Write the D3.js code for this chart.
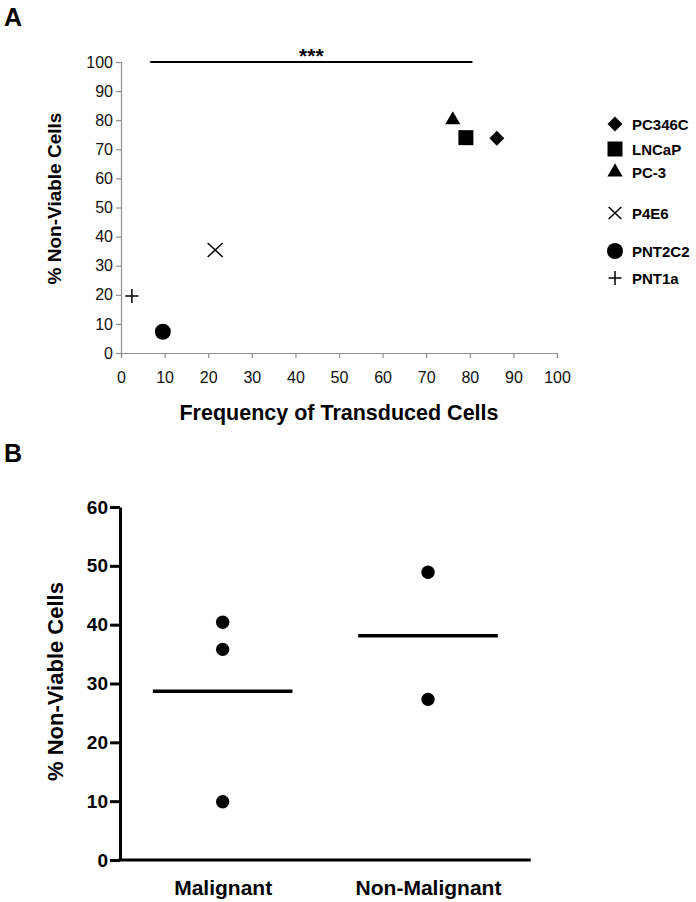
<!DOCTYPE html>
<html>
<head>
<meta charset="utf-8">
<script src="https://cdn.jsdelivr.net/npm/d3@7"></script>
<style>
  html, body { margin: 0; padding: 0; background: #fff; }
  svg { display: block; font-family: Arial, "Liberation Sans", Helvetica, sans-serif; }
</style>
</head>
<body>
<svg id="chart" width="696" height="902"></svg>
<script>
// ---------- Panel A data ----------
const cellLines   = ["PC346C", "LNCaP", "PC-3", "P4E6", "PNT2C2", "PNT1a"];
const markerTypes = ["diamond", "square", "triangle", "x", "circle", "plus"];
const transduced  = [86.2, 79.1, 76.1, 21.6, 9.6, 2.5];
const nonViableA  = [73.8, 74.0, 80.1, 35.4, 7.3, 19.6];
const ticksA      = [0, 10, 20, 30, 40, 50, 60, 70, 80, 90, 100];
const sigRange    = [6.7, 80.6];
const sigLevel    = 100;
const sigLabel    = "***";

// ---------- Panel B data ----------
const groups           = ["Malignant", "Non-Malignant"];
const malignantVals    = [40.4, 35.8, 9.9];
const nonMalignantVals = [48.9, 27.3];
const groupMeans       = [28.7, 38.1];
const ticksB           = [0, 10, 20, 30, 40, 50, 60];

const svg = d3.select("#chart");

// ================= PANEL A =================
const ax = d3.scaleLinear().domain([0, 100]).range([121, 557]);
const ay = d3.scaleLinear().domain([0, 100]).range([353, 62]);
const axisGray = "#8f8f8f";

svg.append("text").attr("x", 4).attr("y", 26)
  .attr("font-size", 25).attr("font-weight", "bold").text("A");

const gAy = svg.append("g").attr("transform", `translate(${ax(0)},0)`)
  .call(d3.axisLeft(ay).tickValues(ticksA).tickSize(5).tickPadding(3).tickFormat(d3.format("d")));
const gAx = svg.append("g").attr("transform", `translate(0,${ay(0)})`)
  .call(d3.axisBottom(ax).tickValues(ticksA).tickSize(5).tickPadding(14).tickFormat(d3.format("d")));
[gAy, gAx].forEach(g => {
  g.select(".domain").attr("stroke", axisGray).attr("stroke-width", 1.2);
  g.selectAll(".tick line").attr("stroke", axisGray).attr("stroke-width", 1.2);
  g.selectAll(".tick text").attr("font-size", 16).attr("fill", "#111")
    .attr("font-family", "Arial, 'Liberation Sans', sans-serif");
});

svg.append("text")
  .attr("transform", `translate(61,${(ay(0) + ay(100)) / 2 - 9}) rotate(-90)`)
  .attr("text-anchor", "middle").attr("font-size", 19).attr("font-weight", "bold")
  .text("% Non-Viable Cells");

svg.append("text")
  .attr("x", (ax(0) + ax(100)) / 2).attr("y", 420)
  .attr("text-anchor", "middle").attr("font-size", 21.5).attr("font-weight", "bold")
  .text("Frequency of Transduced Cells");

// significance bar
svg.append("line")
  .attr("x1", ax(sigRange[0])).attr("x2", ax(sigRange[1]))
  .attr("y1", ay(sigLevel)).attr("y2", ay(sigLevel))
  .attr("stroke", "#000").attr("stroke-width", 2);
svg.append("text")
  .attr("x", (ax(sigRange[0]) + ax(sigRange[1])) / 2).attr("y", ay(sigLevel) + 1)
  .attr("text-anchor", "middle").attr("font-size", 21).attr("font-weight", "bold")
  .text(sigLabel);

function drawMarker(g, type, cx, cy, scale) {
  const s = scale || 1;
  if (type === "diamond") {
    g.append("path").attr("d", d3.symbol(d3.symbolSquare, 110 * s * s)())
      .attr("transform", `translate(${cx},${cy}) rotate(45)`).attr("fill", "#000");
  } else if (type === "square") {
    g.append("path").attr("d", d3.symbol(d3.symbolSquare, 225 * s * s)())
      .attr("transform", `translate(${cx},${cy})`).attr("fill", "#000");
  } else if (type === "triangle") {
    g.append("path").attr("d", d3.symbol(d3.symbolTriangle, 100 * s * s)())
      .attr("transform", `translate(${cx},${cy})`).attr("fill", "#000");
  } else if (type === "circle") {
    g.append("path").attr("d", d3.symbol(d3.symbolCircle, 200 * s * s)())
      .attr("transform", `translate(${cx},${cy})`).attr("fill", "#000");
  } else if (type === "x") {
    const hw = 7.5 * s, hh = 7 * s;
    g.append("path")
      .attr("d", `M${cx - hw},${cy - hh}L${cx + hw},${cy + hh}M${cx - hw},${cy + hh}L${cx + hw},${cy - hh}`)
      .attr("stroke", "#000").attr("stroke-width", 1.5).attr("fill", "none");
  } else if (type === "plus") {
    const hw = 6.5 * s, hh = 7 * s;
    g.append("path")
      .attr("d", `M${cx - hw},${cy}L${cx + hw},${cy}M${cx},${cy - hh}L${cx},${cy + hh}`)
      .attr("stroke", "#000").attr("stroke-width", 1.5).attr("fill", "none");
  }
}

const gPts = svg.append("g");
cellLines.forEach((name, i) => {
  drawMarker(gPts, markerTypes[i], ax(transduced[i]), ay(nonViableA[i]), 1);
});

// legend
const legendY = [124, 149, 172, 213, 251, 278];
const gLeg = svg.append("g");
cellLines.forEach((name, i) => {
  drawMarker(gLeg, markerTypes[i], 615, legendY[i], markerTypes[i] === "x" ? 0.85 : 1);
  gLeg.append("text").attr("x", 632).attr("y", legendY[i] + 5.5)
    .attr("font-size", 15).attr("font-weight", "bold").text(name);
});

// ================= PANEL B =================
const bx = d3.scalePoint().domain(groups).range([120, 530.7]).padding(0.5);
const by = d3.scaleLinear().domain([0, 60]).range([860, 507]);

svg.append("text").attr("x", 4).attr("y", 462)
  .attr("font-size", 25).attr("font-weight", "bold").text("B");

const gBy = svg.append("g").attr("transform", `translate(${bx.range()[0]},0)`)
  .call(d3.axisLeft(by).tickValues(ticksB).tickSize(10).tickSizeOuter(0).tickPadding(2).tickFormat(d3.format("d")));
gBy.select(".domain").attr("stroke", "#000").attr("stroke-width", 3);
gBy.selectAll(".tick line").attr("stroke", "#000").attr("stroke-width", 3);
gBy.selectAll(".tick text").attr("font-size", 19).attr("font-weight", "bold").attr("fill", "#000")
  .attr("font-family", "Arial, 'Liberation Sans', sans-serif");

const gBx = svg.append("g").attr("transform", `translate(0,${by(0)})`)
  .call(d3.axisBottom(bx).tickSize(0).tickSizeOuter(0).tickPadding(20));
gBx.select(".domain").attr("stroke", "#000").attr("stroke-width", 3)
  .attr("d", `M${bx.range()[0] - 1.5},0H${bx.range()[1]}`);
gBx.selectAll(".tick text").attr("font-size", 21).attr("font-weight", "bold").attr("fill", "#000")
  .attr("font-family", "Arial, 'Liberation Sans', sans-serif");

svg.append("text")
  .attr("transform", `translate(63,${(by(0) + by(60)) / 2 - 2}) rotate(-90)`)
  .attr("text-anchor", "middle").attr("font-size", 22).attr("font-weight", "bold")
  .text("% Non-Viable Cells");

const groupVals = [malignantVals, nonMalignantVals];
const gB = svg.append("g");
groups.forEach((grp, gi) => {
  const cx = bx(grp);
  gB.append("line")
    .attr("x1", cx - bx.step() * 0.34).attr("x2", cx + bx.step() * 0.34)
    .attr("y1", by(groupMeans[gi])).attr("y2", by(groupMeans[gi]))
    .attr("stroke", "#000").attr("stroke-width", 3.5);
  groupVals[gi].forEach(v => {
    gB.append("circle").attr("cx", cx).attr("cy", by(v)).attr("r", 6.7).attr("fill", "#000");
  });
});
</script>
</body>
</html>
